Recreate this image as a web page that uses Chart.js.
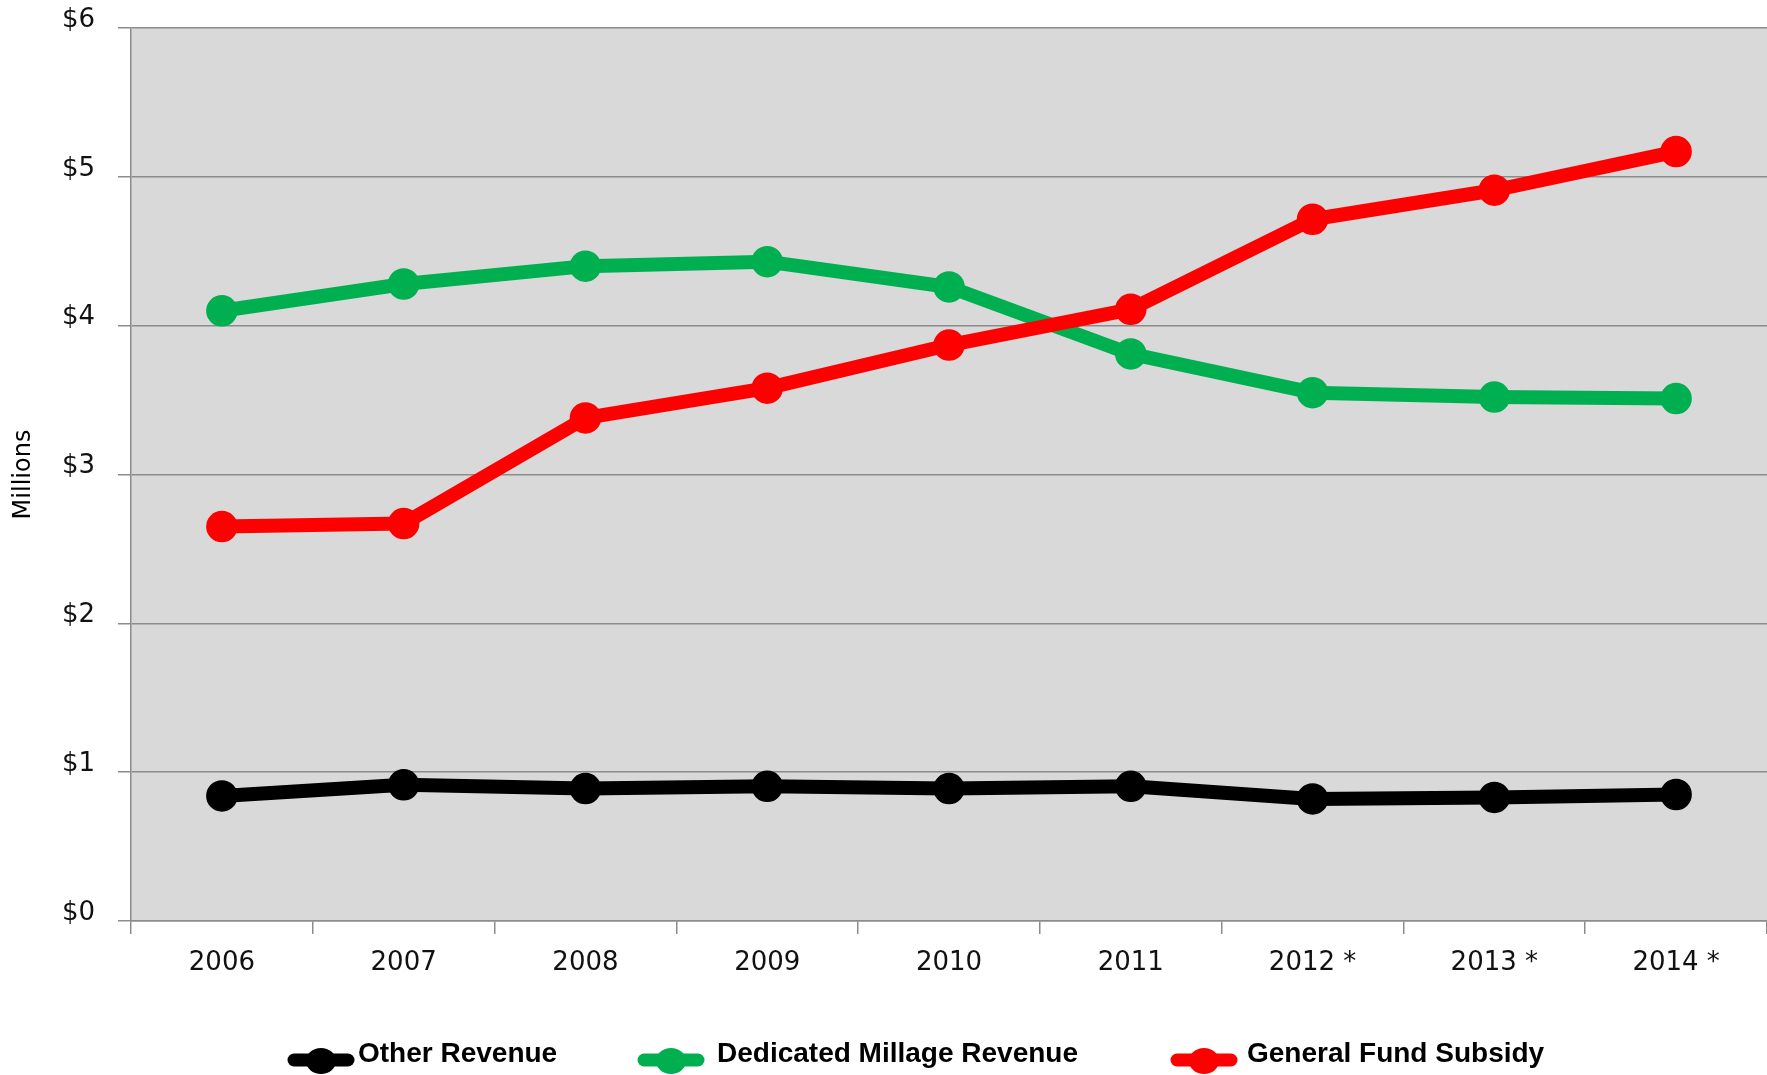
<!DOCTYPE html>
<html>
<head>
<meta charset="utf-8">
<script src="https://cdn.jsdelivr.net/npm/chart.js@4.4.1/dist/chart.umd.min.js"></script>
<style>
  html, body { margin: 0; padding: 0; background: #ffffff; overflow: hidden; }
  #wrap { width: 1767px; height: 1075px; position: relative; }
</style>
</head>
<body>
<div id="wrap"><canvas id="c" width="1767" height="1075"></canvas></div>
<script>
// ---- Data (values in $ millions) ----
const categories = ['2006', '2007', '2008', '2009', '2010', '2011', '2012 *', '2013 *', '2014 *'];
const otherRevenue = [0.84, 0.915, 0.89, 0.905, 0.89, 0.905, 0.82, 0.83, 0.85];
const dedicatedMillageRevenue = [4.10, 4.28, 4.40, 4.43, 4.26, 3.81, 3.55, 3.52, 3.51];
const generalFundSubsidy = [2.65, 2.67, 3.38, 3.58, 3.87, 4.11, 4.715, 4.91, 5.17];
const seriesLabels = ['Other Revenue', 'Dedicated Millage Revenue', 'General Fund Subsidy'];
const yTickLabels = ['$0', '$1', '$2', '$3', '$4', '$5', '$6'];
const yAxisTitle = 'Millions';

// ---- Styling / layout constants ----
const COLORS = ['#000000', '#00B050', '#FF0000'];
const GRID = '#8c8c8c';
const LEGEND_SYMBOL_X = [287, 637, 1170];
const LEGEND_TEXT_X = [358, 717, 1247];

const plotBg = {
  id: 'plotBg',
  beforeDraw(chart) {
    const a = chart.chartArea, ctx = chart.ctx;
    ctx.save();
    ctx.fillStyle = '#D9D9D9';
    ctx.fillRect(a.left, a.top, a.right - a.left, a.bottom - a.top);
    ctx.restore();
  }
};

const refLegend = {
  id: 'refLegend',
  afterDraw(chart) {
    const ctx = chart.ctx;
    ctx.save();
    chart.data.datasets.forEach((ds, i) => {
      const x = LEGEND_SYMBOL_X[i];
      ctx.strokeStyle = ds.borderColor;
      ctx.lineWidth = 13;
      ctx.lineCap = 'round';
      ctx.beginPath();
      ctx.moveTo(x + 7, 1060);
      ctx.lineTo(x + 61, 1060);
      ctx.stroke();
      ctx.fillStyle = ds.borderColor;
      ctx.beginPath();
      ctx.ellipse(x + 34, 1061, 15, 13, 0, 0, Math.PI * 2);
      ctx.fill();
      ctx.fillStyle = '#000000';
      ctx.font = 'bold 28px "Liberation Sans", Arial, sans-serif';
      ctx.textBaseline = 'alphabetic';
      ctx.textAlign = 'left';
      ctx.fillText(ds.label, LEGEND_TEXT_X[i], 1062);
    });
    ctx.restore();
  }
};

function makeDataset(label, data, color, order) {
  return {
    label: label,
    data: data,
    borderColor: color,
    backgroundColor: color,
    pointBackgroundColor: color,
    pointBorderColor: color,
    borderWidth: 14,
    pointRadius: 15,
    pointBorderWidth: 1.5,
    pointHoverRadius: 15,
    borderJoinStyle: 'round',
    borderCapStyle: 'round',
    tension: 0,
    fill: false,
    order: order,
    clip: false
  };
}

new Chart(document.getElementById('c'), {
  type: 'line',
  data: {
    labels: categories,
    datasets: [
      makeDataset(seriesLabels[0], otherRevenue, COLORS[0], 2),
      makeDataset(seriesLabels[1], dedicatedMillageRevenue, COLORS[1], 1),
      makeDataset(seriesLabels[2], generalFundSubsidy, COLORS[2], 0)
    ]
  },
  options: {
    responsive: false,
    animation: false,
    devicePixelRatio: 1,
    layout: { autoPadding: false, padding: { top: 28, left: 0, right: 0, bottom: 0 } },
    plugins: {
      legend: { display: false },
      tooltip: { enabled: false }
    },
    scales: {
      x: {
        offset: true,
        afterFit(scale) {
          scale.height = 154;
          scale.paddingLeft = 0;
          scale.paddingRight = 0;
        },
        grid: {
          offset: true,
          drawOnChartArea: false,
          drawTicks: true,
          tickLength: 13,
          color: GRID,
          lineWidth: 1.5
        },
        border: { display: true, color: GRID, width: 1.5 },
        ticks: {
          padding: 14,
          color: '#111111',
          maxRotation: 0,
          autoSkip: false,
          font: { family: '"DejaVu Sans", sans-serif', size: 26 }
        }
      },
      y: {
        min: 0,
        max: 6,
        afterFit(scale) {
          scale.width = 131;
          scale.paddingTop = 0;
          scale.paddingBottom = 0;
        },
        grid: {
          color: GRID,
          lineWidth: 1.5,
          drawTicks: true,
          tickLength: 13
        },
        border: { display: true, color: GRID, width: 1.5 },
        ticks: {
          stepSize: 1,
          padding: 23,
          labelOffset: -8,
          color: '#111111',
          font: { family: '"DejaVu Sans", sans-serif', size: 26 },
          callback: (v) => yTickLabels[v]
        },
        title: {
          display: true,
          text: yAxisTitle,
          color: '#000000',
          padding: { top: 9, bottom: 0 },
          font: { family: '"DejaVu Sans", sans-serif', size: 24 }
        }
      }
    }
  },
  plugins: [plotBg, refLegend]
});
</script>
</body>
</html>
